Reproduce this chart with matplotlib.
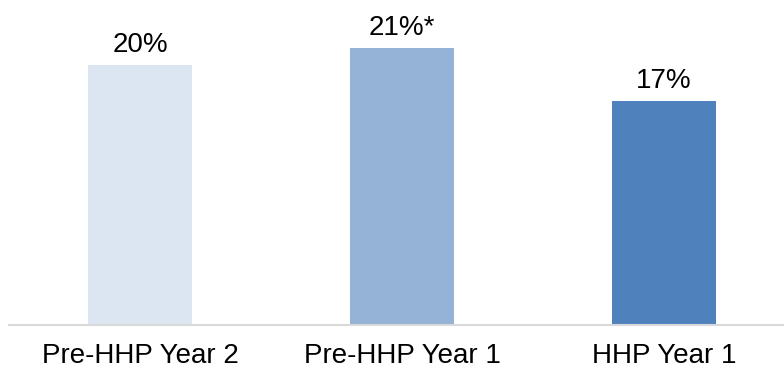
import matplotlib
matplotlib.use("Agg")
import matplotlib.pyplot as plt

categories = ["Pre-HHP Year 2", "Pre-HHP Year 1", "HHP Year 1"]
values = [20.0, 21.3, 17.2]
labels = ["20%", "21%*", "17%"]
colors = ["#DCE6F2", "#95B3D7", "#4F81BD"]

plt.rcParams["font.family"] = ["Liberation Sans", "DejaVu Sans"]

fig = plt.figure(figsize=(7.84, 3.73), dpi=100)
ax = fig.add_axes([0.0115, 0.129, 1.0025, 0.871])

x = range(len(categories))
bars = ax.bar(x, values, width=0.4, color=colors)

for b, lab in zip(bars, labels):
    ax.annotate(lab, (b.get_x() + b.get_width() / 2, b.get_height()),
                xytext=(0, 5), textcoords="offset points",
                ha="center", va="bottom", fontsize=20, color="#000000")

ax.set_xlim(-0.5, 2.5)
ax.set_ylim(0, 25)
ax.set_xticks(list(x))
ax.set_xticklabels(categories, fontsize=20)
ax.tick_params(axis="x", length=0, pad=13)
ax.set_yticks([])
for s in ["top", "right", "left"]:
    ax.spines[s].set_visible(False)
ax.spines["bottom"].set_color("#D9D9D9")
ax.spines["bottom"].set_linewidth(1.5)

fig.savefig("out.png", dpi=100)
